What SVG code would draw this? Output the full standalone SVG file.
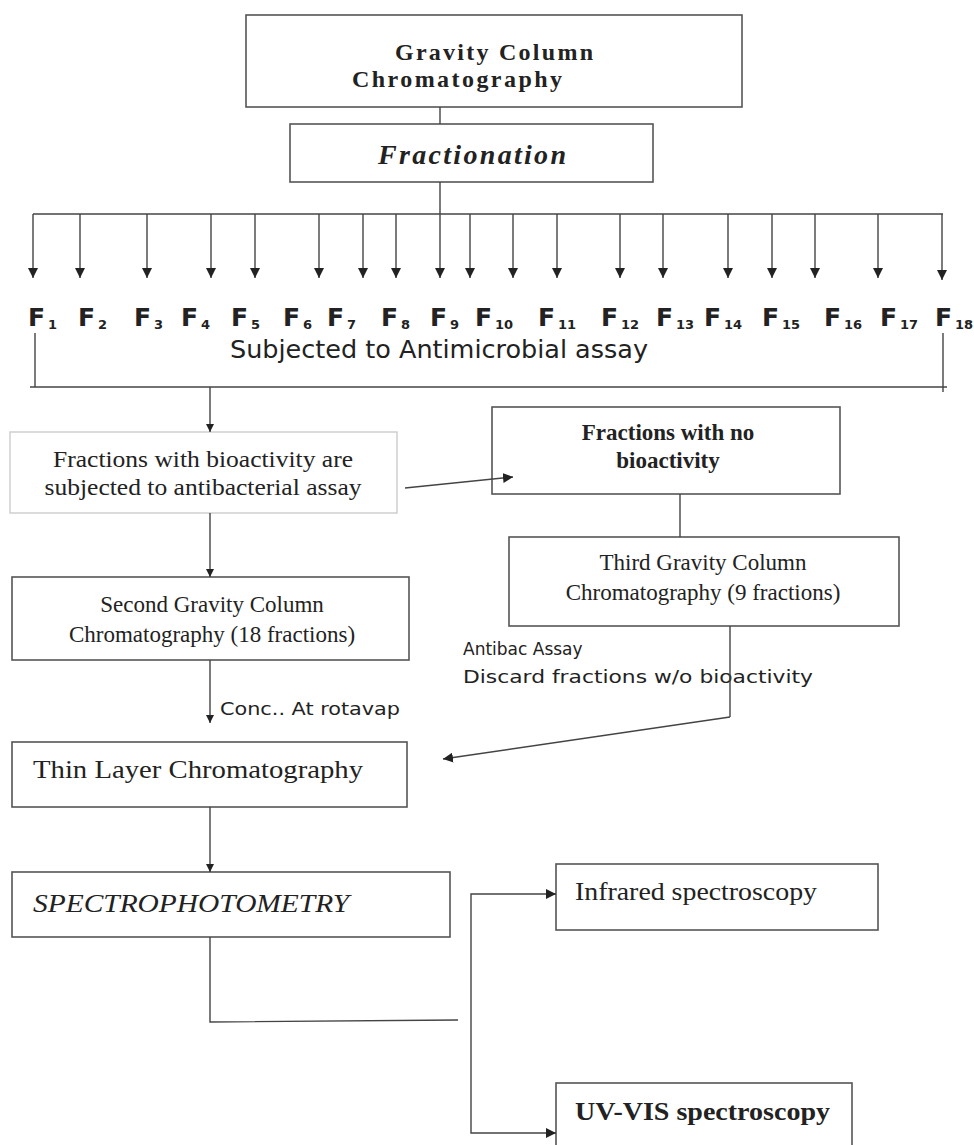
<svg xmlns="http://www.w3.org/2000/svg" width="974" height="1145" viewBox="0 0 974 1145">
<defs>
<marker id="ah" viewBox="0 0 10 10" refX="10" refY="5" markerWidth="10" markerHeight="10" orient="auto" markerUnits="userSpaceOnUse"><path d="M0,0 L10,5 L0,10 z" fill="#222"/></marker>
<marker id="ahs" viewBox="0 0 10 10" refX="10" refY="5" markerWidth="8" markerHeight="8" orient="auto" markerUnits="userSpaceOnUse"><path d="M0,0 L10,5 L0,10 z" fill="#222"/></marker>
</defs>
<style>
.box{fill:#fff;stroke:#555;stroke-width:1.6}
.faint{fill:#fff;stroke:#ccc;stroke-width:1.4}
.ln{fill:none;stroke:#444;stroke-width:1.4}
.ar{fill:none;stroke:#444;stroke-width:1.4;marker-end:url(#ah)}
.ars{fill:none;stroke:#444;stroke-width:1.4;marker-end:url(#ahs)}
.serif{font-family:"Liberation Serif","Times New Roman",serif;fill:#222}
.sans{font-family:"DejaVu Sans",Verdana,sans-serif;fill:#222}
.fl{font-family:"DejaVu Sans",Verdana,sans-serif;font-weight:bold;font-size:25px;fill:#222}
.sub{font-size:13px}
</style>
<rect width="974" height="1145" fill="#fff"/>

<g id="n-gravity">
<rect class="box" x="246" y="15" width="496" height="92"/>
<text class="serif" x="395" y="60" font-size="24" font-weight="bold" textLength="198" lengthAdjust="spacing">Gravity Column</text>
<text class="serif" x="352" y="87" font-size="24" font-weight="bold" textLength="210" lengthAdjust="spacing">Chromatography</text>
</g>

<g id="n-fractionation">
<rect class="box" x="290" y="124" width="363" height="58"/>
<text class="serif" x="378" y="164" font-size="28" font-weight="bold" font-style="italic" textLength="188" lengthAdjust="spacing">Fractionation</text>
</g>

<g id="n-fractions">
<text class="fl" x="28" y="326">F<tspan class="sub" dx="3" dy="3">1</tspan></text>
<text class="fl" x="78" y="326">F<tspan class="sub" dx="3" dy="3">2</tspan></text>
<text class="fl" x="134" y="326">F<tspan class="sub" dx="3" dy="3">3</tspan></text>
<text class="fl" x="181" y="326">F<tspan class="sub" dx="3" dy="3">4</tspan></text>
<text class="fl" x="231" y="326">F<tspan class="sub" dx="3" dy="3">5</tspan></text>
<text class="fl" x="283" y="326">F<tspan class="sub" dx="3" dy="3">6</tspan></text>
<text class="fl" x="327" y="326">F<tspan class="sub" dx="3" dy="3">7</tspan></text>
<text class="fl" x="381" y="326">F<tspan class="sub" dx="3" dy="3">8</tspan></text>
<text class="fl" x="430" y="326">F<tspan class="sub" dx="3" dy="3">9</tspan></text>
<text class="fl" x="475" y="326">F<tspan class="sub" dx="3" dy="3">10</tspan></text>
<text class="fl" x="538" y="326">F<tspan class="sub" dx="3" dy="3">11</tspan></text>
<text class="fl" x="601" y="326">F<tspan class="sub" dx="3" dy="3">12</tspan></text>
<text class="fl" x="656" y="326">F<tspan class="sub" dx="3" dy="3">13</tspan></text>
<text class="fl" x="704" y="326">F<tspan class="sub" dx="3" dy="3">14</tspan></text>
<text class="fl" x="762" y="326">F<tspan class="sub" dx="3" dy="3">15</tspan></text>
<text class="fl" x="824" y="326">F<tspan class="sub" dx="3" dy="3">16</tspan></text>
<text class="fl" x="880" y="326">F<tspan class="sub" dx="3" dy="3">17</tspan></text>
<text class="fl" x="935" y="326">F<tspan class="sub" dx="3" dy="3">18</tspan></text>
<text class="sans" x="230" y="358" font-size="24" textLength="418" lengthAdjust="spacingAndGlyphs">Subjected to Antimicrobial assay</text>
</g>

<g id="n-bioactive">
<rect class="faint" x="10" y="432" width="387" height="81"/>
<text class="serif" x="203" y="467" font-size="23" text-anchor="middle" fill="#333" textLength="300" lengthAdjust="spacingAndGlyphs">Fractions with bioactivity are</text>
<text class="serif" x="203" y="495" font-size="23" text-anchor="middle" fill="#333" textLength="317" lengthAdjust="spacingAndGlyphs">subjected to antibacterial assay</text>
</g>

<g id="n-nobio">
<rect class="box" x="492" y="407" width="348" height="87"/>
<text class="serif" x="668" y="440" font-size="23" font-weight="bold" text-anchor="middle">Fractions with no</text>
<text class="serif" x="668" y="468" font-size="23" font-weight="bold" text-anchor="middle">bioactivity</text>
</g>

<g id="n-third">
<rect class="box" x="509" y="537" width="390" height="89"/>
<text class="serif" x="703" y="570" font-size="23" text-anchor="middle">Third Gravity Column</text>
<text class="serif" x="703" y="600" font-size="23" text-anchor="middle">Chromatography (9 fractions)</text>
</g>

<g id="n-second">
<rect class="box" x="12" y="577" width="397" height="83"/>
<text class="serif" x="212" y="612" font-size="23" text-anchor="middle">Second Gravity Column</text>
<text class="serif" x="212" y="642" font-size="23" text-anchor="middle">Chromatography (18 fractions)</text>
</g>

<g id="n-antibac">
<text class="sans" x="463" y="655" font-size="17">Antibac Assay</text>
<text class="sans" x="463" y="683" font-size="17" textLength="350" lengthAdjust="spacingAndGlyphs">Discard fractions w/o bioactivity</text>
</g>

<g id="n-conc">
<text class="sans" x="220" y="715" font-size="17" textLength="180" lengthAdjust="spacingAndGlyphs">Conc.. At rotavap</text>
</g>

<g id="n-tlc">
<rect class="box" x="12" y="742" width="395" height="65"/>
<text class="serif" x="33" y="778" font-size="25" textLength="330" lengthAdjust="spacingAndGlyphs">Thin Layer Chromatography</text>
</g>

<g id="n-spectro">
<rect class="box" x="12" y="872" width="438" height="65"/>
<text class="serif" x="33" y="912" font-size="26" font-style="italic" textLength="316" lengthAdjust="spacingAndGlyphs">SPECTROPHOTOMETRY</text>
</g>

<g id="n-infrared">
<rect class="box" x="556" y="864" width="322" height="66"/>
<text class="serif" x="575" y="900" font-size="26" textLength="242" lengthAdjust="spacingAndGlyphs">Infrared spectroscopy</text>
</g>

<g id="n-uvvis">
<rect class="box" x="556" y="1083" width="296" height="70"/>
<text class="serif" x="575" y="1120" font-size="26" font-weight="bold" textLength="255" lengthAdjust="spacingAndGlyphs">UV-VIS spectroscopy</text>
</g>

<g id="connectors">
<line class="ln" x1="440" y1="107" x2="440" y2="124"/>
<line class="ln" x1="33" y1="214" x2="943" y2="214"/>
<line class="ar" x1="440" y1="182" x2="440" y2="278"/>
<line class="ar" x1="33" y1="214" x2="33" y2="278"/>
<line class="ar" x1="80" y1="214" x2="80" y2="278"/>
<line class="ar" x1="147" y1="214" x2="147" y2="278"/>
<line class="ar" x1="211" y1="214" x2="211" y2="278"/>
<line class="ar" x1="255" y1="214" x2="255" y2="278"/>
<line class="ar" x1="319" y1="214" x2="319" y2="278"/>
<line class="ar" x1="363" y1="214" x2="363" y2="278"/>
<line class="ar" x1="396" y1="214" x2="396" y2="278"/>
<line class="ar" x1="470" y1="214" x2="470" y2="278"/>
<line class="ar" x1="513" y1="214" x2="513" y2="278"/>
<line class="ar" x1="557" y1="214" x2="557" y2="278"/>
<line class="ar" x1="620" y1="214" x2="620" y2="278"/>
<line class="ar" x1="663" y1="214" x2="663" y2="278"/>
<line class="ar" x1="728" y1="214" x2="728" y2="278"/>
<line class="ar" x1="772" y1="214" x2="772" y2="278"/>
<line class="ar" x1="815" y1="214" x2="815" y2="278"/>
<line class="ar" x1="878" y1="214" x2="878" y2="278"/>
<line class="ar" x1="942" y1="214" x2="942" y2="280"/>
<line class="ln" x1="35" y1="333" x2="35" y2="387"/>
<line class="ln" x1="943" y1="333" x2="943" y2="392"/>
<line class="ln" x1="30" y1="387" x2="947" y2="387"/>
<line class="ars" x1="210" y1="387" x2="210" y2="432"/>
<line class="ar" x1="405" y1="488" x2="513" y2="477"/>
<line class="ln" x1="680" y1="494" x2="680" y2="537"/>
<line class="ars" x1="210" y1="513" x2="210" y2="577"/>
<line class="ln" x1="730" y1="626" x2="730" y2="717"/>
<line class="ar" x1="730" y1="717" x2="443" y2="759"/>
<line class="ars" x1="210" y1="660" x2="210" y2="723"/>
<line class="ars" x1="210" y1="807" x2="210" y2="872"/>
<polyline class="ln" points="210,937 210,1022 458,1020"/>
<polyline class="ar" points="471,1000 471,894 556,894"/>
<polyline class="ar" points="471,1000 471,1133 556,1133"/>
</g>
</svg>
